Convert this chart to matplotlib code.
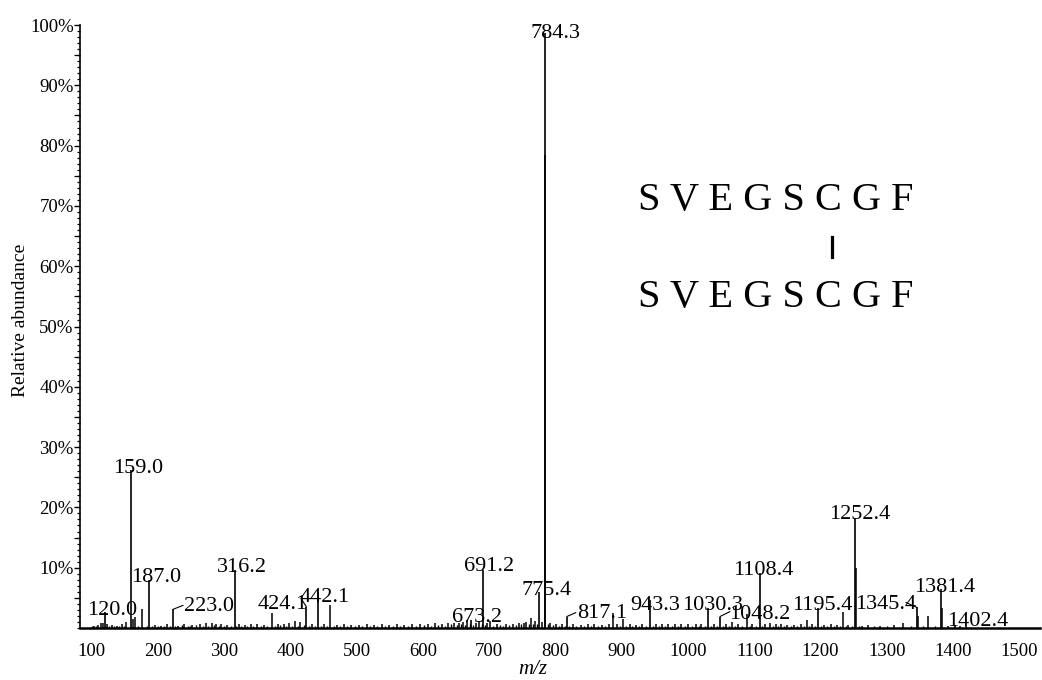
import matplotlib
matplotlib.use("Agg")
import matplotlib.pyplot as plt
from matplotlib.ticker import MultipleLocator, FixedLocator, FuncFormatter
from matplotlib.lines import Line2D

# ---------------- data ----------------
# labelled peaks (m/z, relative abundance %)
label_mz = [120.0, 159.0, 187.0, 223.0, 316.2, 424.1, 442.1, 673.2, 691.2, 775.4,
            784.3, 817.1, 943.3, 1030.3, 1048.2, 1108.4, 1195.4, 1252.4, 1345.4,
            1381.4, 1402.4]
label_int = [2.7, 26.2, 8.0, 3.1, 9.6, 3.5, 6.0, 1.4, 9.6, 5.9,
             98.6, 1.9, 4.6, 3.3, 1.9, 9.1, 3.3, 18.2, 3.4,
             6.4, 0.5]
label_txt = ["120.0", "159.0", "187.0", "223.0", "316.2", "424.1", "442.1", "673.2",
             "691.2", "775.4", "784.3", "817.1", "943.3", "1030.3", "1048.2", "1108.4",
             "1195.4", "1252.4", "1345.4", "1381.4", "1402.4"]

# other (unlabelled) peaks
minor_mz = [104, 110, 114, 117, 123, 131, 138, 146, 152, 162, 165.6, 176.5, 196, 205,
            214, 231, 240, 252, 263, 272, 281, 288, 296, 305, 322, 331, 340, 350,
            360, 372.7, 381, 390, 398, 407, 415, 432, 450, 459.8, 470, 481, 492, 503,
            515, 526, 538, 549, 561, 572, 584, 596, 607, 618, 628, 638, 647, 655,
            661, 667, 680, 685, 697, 701.5, 712, 725, 736, 745, 752, 756, 763.5,
            769, 779, 784.8, 792, 801, 810, 826, 838, 849, 858, 870, 880, 886.5,
            893, 902.5, 912, 921, 931, 951, 960, 970, 980, 990, 1000, 1012, 1020,
            1039, 1057, 1066, 1076, 1088.7, 1097, 1116, 1123.5, 1132, 1140, 1150,
            1160, 1170, 1179.2, 1187, 1205, 1215, 1224, 1233.6, 1242, 1253.4, 1262,
            1272, 1290, 1310, 1325, 1346.4, 1362.7, 1382.4, 1392, 1410, 1420]
minor_int = [0.4, 0.5, 0.8, 0.9, 0.7, 0.5, 0.4, 0.6, 1.0, 1.5, 1.9, 3.1, 0.5, 0.4,
             0.6, 0.4, 0.7, 0.5, 0.6, 0.8, 0.9, 0.6, 0.7, 0.5, 0.6, 0.5, 0.7, 0.6,
             0.5, 2.5, 0.6, 0.7, 0.8, 1.2, 1.0, 0.7, 0.6, 3.8, 0.5, 0.6, 0.5, 0.5,
             0.6, 0.5, 0.6, 0.5, 0.6, 0.5, 0.7, 0.6, 0.7, 0.8, 0.7, 0.8, 0.9, 0.9,
             1.0, 1.3, 0.9, 1.2, 0.8, 1.2, 0.7, 0.6, 0.7, 0.8, 0.9, 1.0, 1.6,
             1.2, 1.0, 78.5, 0.8, 0.6, 0.6, 0.6, 0.5, 0.6, 0.6, 0.5, 0.6, 2.5,
             0.6, 1.5, 0.6, 0.5, 0.6, 0.6, 0.7, 0.6, 0.6, 0.6, 0.7, 0.6, 0.6,
             0.6, 0.6, 1.0, 0.7, 2.3, 0.6, 0.7, 0.8, 0.6, 0.6, 0.5,
             0.5, 0.6, 1.4, 0.6, 0.5, 0.6, 0.5, 2.7, 0.5, 10.0, 0.4,
             0.5, 0.4, 0.5, 0.8, 2.0, 2.0, 3.3, 0.4, 0.3, 0.3]

# baseline noise spikes read along the axis
noise_mz = [101, 107, 127, 134, 142, 149, 170, 183, 191, 200, 209, 218, 226, 236,
            245, 248, 257, 268, 276, 284, 292, 300, 310, 318, 326, 335, 344, 355,
            365, 376, 385, 394, 403, 411, 420, 428, 437, 446, 455, 465, 475, 486,
            497, 508, 520, 531, 543, 555, 566, 578, 590, 601, 612, 623, 633, 643,
            651, 658, 664, 671, 676, 689, 694, 706, 716, 720, 730, 740, 748, 760,
            766, 772, 788, 796, 805, 814, 821, 831, 843, 853, 864, 875, 897, 907,
            916, 926, 936, 947, 956, 965, 975, 985, 995, 1006, 1016, 1025, 1035,
            1044, 1052, 1061, 1071, 1081, 1093, 1102, 1112, 1128, 1136, 1145, 1155,
            1165, 1175, 1183, 1192, 1200, 1210, 1220, 1229, 1238, 1247, 1258, 1280,
            1300, 1318, 1336, 1355, 1372]
noise_int = [0.3, 0.3, 0.4, 0.3, 0.4, 0.3, 0.4, 0.3, 0.4, 0.3, 0.4, 0.3, 0.4, 0.5,
             0.3, 0.4, 0.5, 0.4, 0.3, 0.5, 0.4, 0.3, 0.4, 0.3, 0.4, 0.3, 0.4, 0.3,
             0.4, 0.3, 0.5, 0.4, 0.3, 0.4, 0.5, 0.3, 0.4, 0.3, 0.4, 0.3, 0.4, 0.3,
             0.4, 0.3, 0.4, 0.3, 0.4, 0.3, 0.4, 0.3, 0.4, 0.5, 0.4, 0.5, 0.4, 0.6,
             0.5, 0.6, 0.5, 0.6, 0.5, 0.6, 0.5, 0.4, 0.5, 0.4, 0.5, 0.5, 0.6, 0.7,
             0.6, 0.7, 0.6, 0.5, 0.4, 0.4, 0.3, 0.4, 0.3, 0.4, 0.3, 0.4, 0.4, 0.3,
             0.4, 0.3, 0.4, 0.3, 0.4, 0.3, 0.4, 0.3, 0.4, 0.3, 0.4, 0.3, 0.4,
             0.3, 0.4, 0.3, 0.4, 0.3, 0.4, 0.3, 0.4, 0.4, 0.3, 0.4, 0.3,
             0.4, 0.3, 0.4, 0.3, 0.4, 0.3, 0.4, 0.3, 0.4, 0.3, 0.3, 0.3,
             0.3, 0.2, 0.3, 0.3, 0.3]

y_ticks = [10, 20, 30, 40, 50, 60, 70, 80, 90, 100]
x_ticks = [100, 200, 300, 400, 500, 600, 700, 800, 900, 1000, 1100, 1200, 1300, 1400, 1500]

seq_top = "SVEGSCGF"
seq_bottom = "SVEGSCGF"

# label offsets (pixels: dx, dy of label centre-baseline relative to peak top)
label_off = {
    "120.0": (7, -3), "159.0": (7, -3), "187.0": (7, -2), "223.0": (36, -1.5),
    "316.2": (7, -2), "424.1": (-24, -2.6), "442.1": (6, -10), "673.2": (6, -2.4),
    "691.2": (6, -1), "775.4": (7, -2.3), "784.3": (10, -5), "817.1": (35, -1.6),
    "943.3": (5, -10), "1030.3": (4.5, -1.7), "1048.2": (40, -2.6), "1108.4": (3.5, -1.7),
    "1195.4": (5, -1.7), "1252.4": (4, -1), "1345.4": (-31, -2), "1381.4": (3.5, -2.4),
    "1402.4": (23, -1),
}
leaders = {"223.0": (10, 4), "424.1": (-5, 8), "817.1": (9, 4), "1048.2": (10, 5),
           "1345.4": (-11, 5)}

# ---------------- plot ----------------
plt.rcParams['font.family'] = ['Liberation Serif', 'DejaVu Serif']
W, H = 1042, 680
fig = plt.figure(figsize=(W / 100, H / 100), dpi=100)
ax = fig.add_axes([80 / W, 52 / H, 960 / W, 603 / H])

ax.vlines(noise_mz, 0, noise_int, color='black', lw=1.0)
ax.vlines(minor_mz, 0, minor_int, color='black', lw=1.1)
ax.vlines(label_mz, 0, label_int, color='black', lw=1.2)

ax.set_xlim(82.5, 1531)
ax.set_ylim(0, 100)

for s in ['top', 'right']:
    ax.spines[s].set_visible(False)
ax.spines['left'].set_linewidth(1.2)
ax.spines['bottom'].set_linewidth(1.8)

ax.xaxis.set_major_locator(FixedLocator(x_ticks))
ax.tick_params(axis='x', length=0, pad=11, labelsize=13.5)
ax.yaxis.set_major_locator(FixedLocator(y_ticks))
ax.yaxis.set_minor_locator(MultipleLocator(1))
ax.yaxis.set_major_formatter(FuncFormatter(lambda v, p: f"{int(v)}%"))
ax.tick_params(axis='y', which='major', length=4.5, width=1.0, pad=0, labelsize=13.5)
ax.tick_params(axis='y', which='minor', length=2.5, width=0.9)
sec = ax.secondary_yaxis('left')
sec.set_yticks([5, 15, 25, 35, 45, 55, 65, 75, 85, 95])
sec.tick_params(length=4, width=0.9, labelleft=False)
sec.spines['left'].set_visible(False)

px2pt = 0.72
for mz, inten, txt in zip(label_mz, label_int, label_txt):
    dx, dy = label_off[txt]
    ax.annotate(txt, (mz, inten), xytext=(dx * px2pt, dy * px2pt),
                textcoords='offset points', ha='center', va='baseline',
                fontsize=16)
    if txt in leaders:
        lx, ly = leaders[txt]
        ax.annotate("", (mz, inten), xytext=(lx * px2pt, ly * px2pt),
                    textcoords='offset points',
                    arrowprops=dict(arrowstyle='-', lw=0.8, color='black',
                                    shrinkA=0, shrinkB=0))

fig.text(21 / W, 1 - 320 / H, "Relative abundance", rotation=90,
         ha='center', va='center', fontsize=14)
fig.text(533 / W, 1 - 670 / H, "m/z", style='italic', ha='center', va='center',
         fontsize=15)

fig.text(638 / W, 1 - 210 / H, " ".join(seq_top), ha='left', va='baseline', fontsize=29)
fig.text(638 / W, 1 - 307 / H, " ".join(seq_bottom), ha='left', va='baseline', fontsize=29)
fig.add_artist(Line2D([832 / W, 832 / W], [1 - 237 / H, 1 - 257 / H], lw=2.3,
                      color='black'))

fig.savefig("out.png", dpi=100)
